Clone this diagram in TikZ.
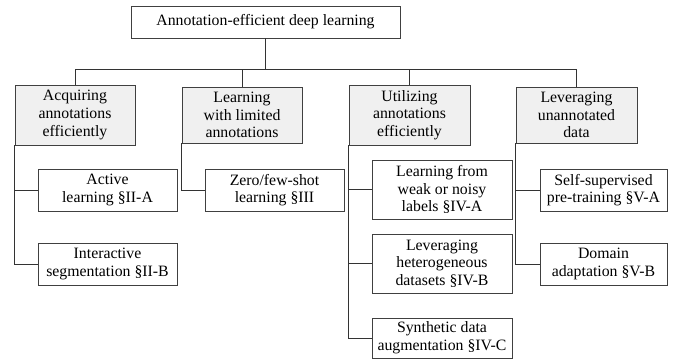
\documentclass[tikz,border=0pt]{standalone}
\usepackage{fontspec}
\setmainfont{Liberation Serif}
\begin{document}
\begin{tikzpicture}[x=1pt,y=-1pt,
  box/.style={draw=black!75,line width=0.9pt,inner sep=0pt,align=center,
    font=\fontsize{15.8}{17.7}\selectfont},
  topbox/.style={box,fill=black!6},
  wire/.style={draw=black!80,line width=0.9pt}]
\useasboundingbox (0,0) rectangle (683,360);
\node[box,minimum width=269pt,minimum height=32pt] (root) at (265.5,22) {Annotation-efficient deep learning};
\node[topbox,minimum width=120pt,minimum height=60pt] (A) at (75,115) {Acquiring\\annotations\\efficiently};
\node[topbox,minimum width=120pt,minimum height=56pt] (B) at (242,115) {Learning\\with limited\\annotations};
\node[topbox,minimum width=121pt,minimum height=60pt] (C) at (409.5,115) {Utilizing\\annotations\\efficiently};
\node[topbox,minimum width=121pt,minimum height=56pt] (D) at (576.5,115) {Leveraging\\unannotated\\data};
\node[box,minimum width=139pt,minimum height=42pt] (A1) at (107.5,190) {Active\\learning \S II-A};
\node[box,minimum width=139pt,minimum height=42pt] (A2) at (107.5,264) {Interactive\\segmentation \S II-B};
\node[box,minimum width=139pt,minimum height=42pt] (B1) at (274.5,190) {Zero/few-shot\\learning \S III};
\node[box,minimum width=140pt,minimum height=59pt] (C1) at (442,189.5) {Learning from\\weak or noisy\\labels \S IV-A};
\node[box,minimum width=140pt,minimum height=59pt] (C2) at (442,263.5) {Leveraging\\heterogeneous\\datasets \S IV-B};
\node[box,minimum width=140pt,minimum height=40pt] (C3) at (442,338) {Synthetic data\\augmentation \S IV-C};
\node[box,minimum width=127pt,minimum height=42pt] (D1) at (603.5,190) {Self-supervised\\pre-training \S V-A};
\node[box,minimum width=127pt,minimum height=42pt] (D2) at (603.5,264) {Domain\\adaptation \S V-B};
\coordinate (bus) at (265.5,69);
\draw[wire] (root.south) -- (bus);
\draw[wire] (A.north) -- (A.north |- bus) -- (D.north |- bus) -- (D.north);
\draw[wire] (B.north) -- (B.north |- bus);
\draw[wire] (C.north) -- (C.north |- bus);
\draw[wire] (A.south west) -- (A.south west |- A2.west) -- (A2.west);
\draw[wire] (A.south west |- A1.west) -- (A1.west);
\draw[wire] (B.south west) -- (B.south west |- B1.west) -- (B1.west);
\draw[wire] (C.south west) -- (C.south west |- C3.west) -- (C3.west);
\draw[wire] (C.south west |- C1.west) -- (C1.west);
\draw[wire] (C.south west |- C2.west) -- (C2.west);
\draw[wire] (D.south west) -- (D.south west |- D2.west) -- (D2.west);
\draw[wire] (D.south west |- D1.west) -- (D1.west);
\end{tikzpicture}
\end{document}
